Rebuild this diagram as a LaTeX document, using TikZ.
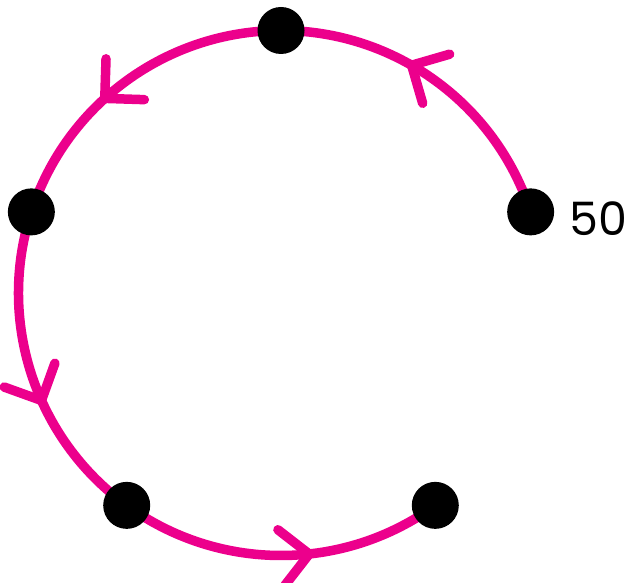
\documentclass[tikz,border=0pt]{standalone}
\usepackage{fontspec}
\setsansfont{Poppins}
\usetikzlibrary{arrows.meta,decorations.markings,positioning,backgrounds}

\definecolor{ringpink}{RGB}{236,0,140}

\tikzset{
    dot/.style={circle, fill=black, minimum size=47pt, inner sep=0pt},
    ring/.style={ringpink, line width=9.5pt, line cap=round,
        postaction={decorate, decoration={markings,
            mark=at position 0.6 with {\arrow{Straight Barb[length=28pt, width=56pt, line cap=round, line join=round]}}}}},
}

\begin{document}
\begin{tikzpicture}[x=1pt, y=1pt, font=\sffamily]
        \def\r{262.5}

        \useasboundingbox (0,0) rectangle (634,583);
        \coordinate (c) at (281,290);

        \node[dot] (p1) at ([shift={(18:\r)}]c) {};
        \node[dot] (p2) at ([shift={(90:\r)}]c) {};
        \node[dot] (p3) at ([shift={(162:\r)}]c) {};
        \node[dot] (p4) at ([shift={(234:\r)}]c) {};
        \node[dot] (p5) at ([shift={(306:\r)}]c) {};

        \node[right=12pt of p1, yshift=-7pt, font=\sffamily\fontsize{46}{46}\selectfont] (val) {50};

        \begin{scope}[on background layer]
            \draw[ring] (p1.center) arc[start angle=18, end angle=90, radius=\r];
            \draw[ring] (p2.center) arc[start angle=90, end angle=162, radius=\r];
            \draw[ring] (p3.center) arc[start angle=162, end angle=234, radius=\r];
            \draw[ring] (p4.center) arc[start angle=234, end angle=306, radius=\r];
        \end{scope}
    \end{tikzpicture}
\end{document}
